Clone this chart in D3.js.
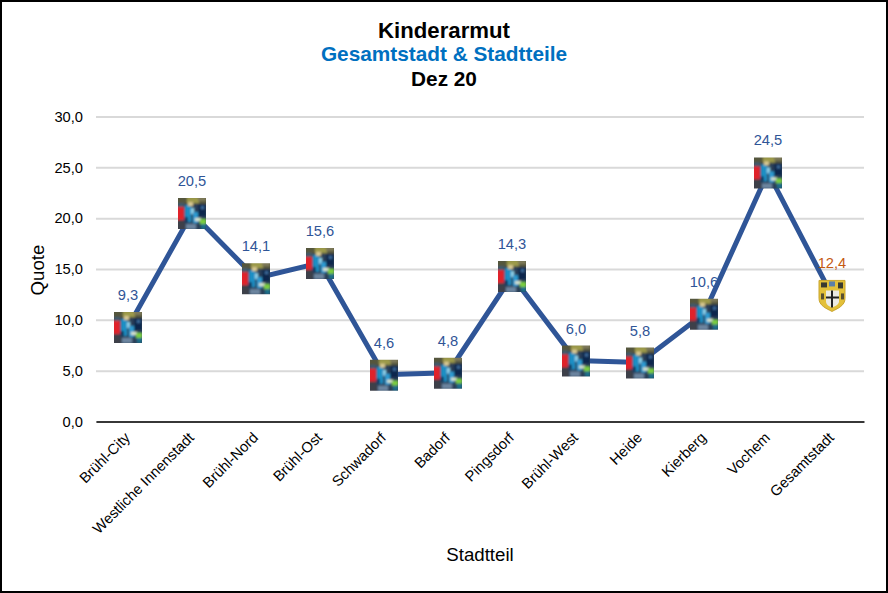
<!DOCTYPE html>
<html lang="de">
<head>
<meta charset="UTF-8">
<title>Kinderarmut</title>
<script src="https://d3js.org/d3.v7.min.js"></script>
<style>
  html, body { margin: 0; padding: 0; background: #fff; }
  svg { display: block; font-family: "Liberation Sans", Arial, sans-serif; }
</style>
</head>
<body>
<div id="chart"></div>
<script>
const stadtteile = ["Brühl-City", "Westliche Innenstadt", "Brühl-Nord", "Brühl-Ost", "Schwadorf", "Badorf",
                    "Pingsdorf", "Brühl-West", "Heide", "Kierberg", "Vochem"];
const quote = [9.3, 20.5, 14.1, 15.6, 4.6, 4.8, 14.3, 6.0, 5.8, 10.6, 24.5];
const gesamtLabel = "Gesamtstadt";
const gesamtQuote = 12.4;
const yTicks = [0, 5, 10, 15, 20, 25, 30];

const width = 888, height = 593;
const fmt = v => d3.format(".1f")(v).replace(".", ",");

const x = d3.scaleBand([...stadtteile, gesamtLabel], [96, 864]);
const y = d3.scaleLinear([0, 30], [421.5, 116.5]);
const cx = d => x(d) + x.bandwidth() / 2;

const svg = d3.select("#chart").append("svg")
    .attr("width", width).attr("height", height);

svg.append("rect")
    .attr("x", 1).attr("y", 1).attr("width", width - 2).attr("height", height - 2)
    .attr("fill", "#fff").attr("stroke", "#000").attr("stroke-width", 2);

// titel
const titles = [
  {t: "Kinderarmut", y: 38, s: 22.2, c: "#000"},
  {t: "Gesamtstadt & Stadtteile", y: 61, s: 20.8, c: "#0070c0"},
  {t: "Dez 20", y: 86, s: 20.8, c: "#000"}
];
svg.selectAll("text.title").data(titles).enter().append("text")
    .attr("class", "title")
    .attr("x", 444).attr("y", d => d.y)
    .attr("text-anchor", "middle")
    .attr("font-weight", "bold")
    .attr("font-size", d => d.s)
    .attr("fill", d => d.c)
    .text(d => d.t);

// y achse mit gitter
const yAxis = svg.append("g")
    .attr("transform", "translate(96,0)")
    .call(d3.axisLeft(y).tickValues(yTicks).tickFormat(fmt).tickSize(-768).tickPadding(13));
yAxis.select(".domain").remove();
yAxis.selectAll("line").attr("stroke", "#d9d9d9").attr("stroke-width", 2);
yAxis.selectAll("text").attr("font-size", 14.7).attr("fill", "#000").attr("font-family", "Liberation Sans");

// x achse
const xAxis = svg.append("g")
    .attr("transform", `translate(0,${y(0)})`)
    .call(d3.axisBottom(x).tickSize(0));
xAxis.select(".domain").attr("stroke", "#000").attr("stroke-width", 1.5);
xAxis.selectAll("text")
    .attr("font-size", 14.7).attr("fill", "#000").attr("font-family", "Liberation Sans")
    .attr("text-anchor", "end")
    .attr("dy", 0).attr("y", 0)
    .attr("transform", "translate(3,17) rotate(-45)");

svg.append("text")
    .attr("x", 480).attr("y", 561).attr("text-anchor", "middle")
    .attr("font-size", 18.7).text("Stadtteil");
svg.append("text")
    .attr("transform", "translate(44,270) rotate(-90)").attr("text-anchor", "middle")
    .attr("font-size", 18.7).text("Quote");

// linie
const pts = stadtteile.map((d, i) => [d, quote[i]]);
pts.push([gesamtLabel, gesamtQuote]);
svg.append("path")
    .attr("d", d3.line().x(d => cx(d[0])).y(d => y(d[1]))(pts))
    .attr("fill", "none").attr("stroke", "#2f5597").attr("stroke-width", 5)
    .attr("stroke-linejoin", "miter");

// bildmarker (foto der kinder, stark vereinfacht)
const defs = svg.append("defs");
const blur = defs.append("filter").attr("id", "soft")
    .attr("x", "-10%").attr("y", "-10%").attr("width", "120%").attr("height", "120%");
blur.append("feGaussianBlur").attr("stdDeviation", 0.9);
const foto = defs.append("clipPath").attr("id", "fotoClip");
foto.append("rect").attr("x", -14).attr("y", -15).attr("width", 28).attr("height", 31);

const fotoTeile = [
  [-16, -17, 32, 35, "#2a3f58"],
  [-16, -17, 32, 8, "#55563c"],
  [-5, -16, 12, 6, "#9c9a48"],
  [6, -16, 8, 4, "#7f7a5a"],
  [-14, -10, 6, 5, "#3f5a6e"],
  [-16, -6, 8, 13, "#e0202c"],
  [-16, 7, 9, 11, "#3c4148"],
  [-7, -8, 6, 17, "#1f8fc4"],
  [-4, -11, 5, 4, "#d8c890"],
  [-1, -5, 3, 6, "#8fd0e8"],
  [1, -1, 5, 11, "#2f9ad0"],
  [6, -9, 8, 12, "#10284e"],
  [9, -7, 3, 3, "#3f6fa0"],
  [3, 5, 6, 3, "#dbe6cf"],
  [8, 6, 6, 5, "#7ccf3c"],
  [9, 11, 5, 5, "#1f6f8a"],
  [-6, 11, 10, 5, "#6d86a0"],
  [-8, 4, 4, 5, "#173a60"]
];
const fotoMarker = svg.selectAll("g.foto").data(pts.slice(0, -1)).enter().append("g")
    .attr("class", "foto")
    .attr("transform", d => `translate(${cx(d[0])},${y(d[1])})`);
fotoMarker.append("g").attr("clip-path", "url(#fotoClip)")
  .append("g").attr("filter", "url(#soft)")
  .selectAll("rect").data(fotoTeile).enter().append("rect")
    .attr("x", d => d[0]).attr("y", d => d[1])
    .attr("width", d => d[2]).attr("height", d => d[3])
    .attr("fill", d => d[4]);

// wappen gesamtstadt
const wappen = svg.append("g")
    .attr("transform", `translate(${cx(gesamtLabel)},${y(gesamtQuote)})`);
const schild = "M-13,-15H13V3C13,10 6,13 0,16C-6,13 -13,10 -13,3Z";
wappen.append("path").attr("d", schild).attr("fill", "#e3c039").attr("stroke", "#c9a52e").attr("stroke-width", 1);
wappen.append("rect").attr("x", -11).attr("y", -13).attr("width", 6).attr("height", 5).attr("fill", "#3a3a30");
wappen.append("rect").attr("x", 6).attr("y", -13).attr("width", 5).attr("height", 6).attr("fill", "#3a3a30");
wappen.append("rect").attr("x", -3).attr("y", -14).attr("width", 6).attr("height", 5).attr("fill", "#5b7fa8");
wappen.append("rect").attr("x", -11).attr("y", -2).attr("width", 3).attr("height", 6).attr("fill", "#5a5030");
wappen.append("rect").attr("x", 9).attr("y", -2).attr("width", 3).attr("height", 6).attr("fill", "#5a5030");
wappen.append("path").attr("d", "M-6,-5H7V6C7,9 3,11 0,12C-3,11 -6,9 -6,6Z").attr("fill", "#ecebe4");
wappen.append("path").attr("d", "M0,-5V12M-6,2H7").attr("stroke", "#222").attr("stroke-width", 2).attr("fill", "none");

// datenbeschriftung
svg.selectAll("text.wert").data(pts).enter().append("text")
    .attr("class", "wert")
    .attr("x", d => cx(d[0]))
    .attr("y", d => y(d[1]) - 27)
    .attr("text-anchor", "middle")
    .attr("font-size", 14.7)
    .attr("fill", d => d[0] === gesamtLabel ? "#c55a11" : "#2f5597")
    .text(d => fmt(d[1]));
</script>
</body>
</html>
